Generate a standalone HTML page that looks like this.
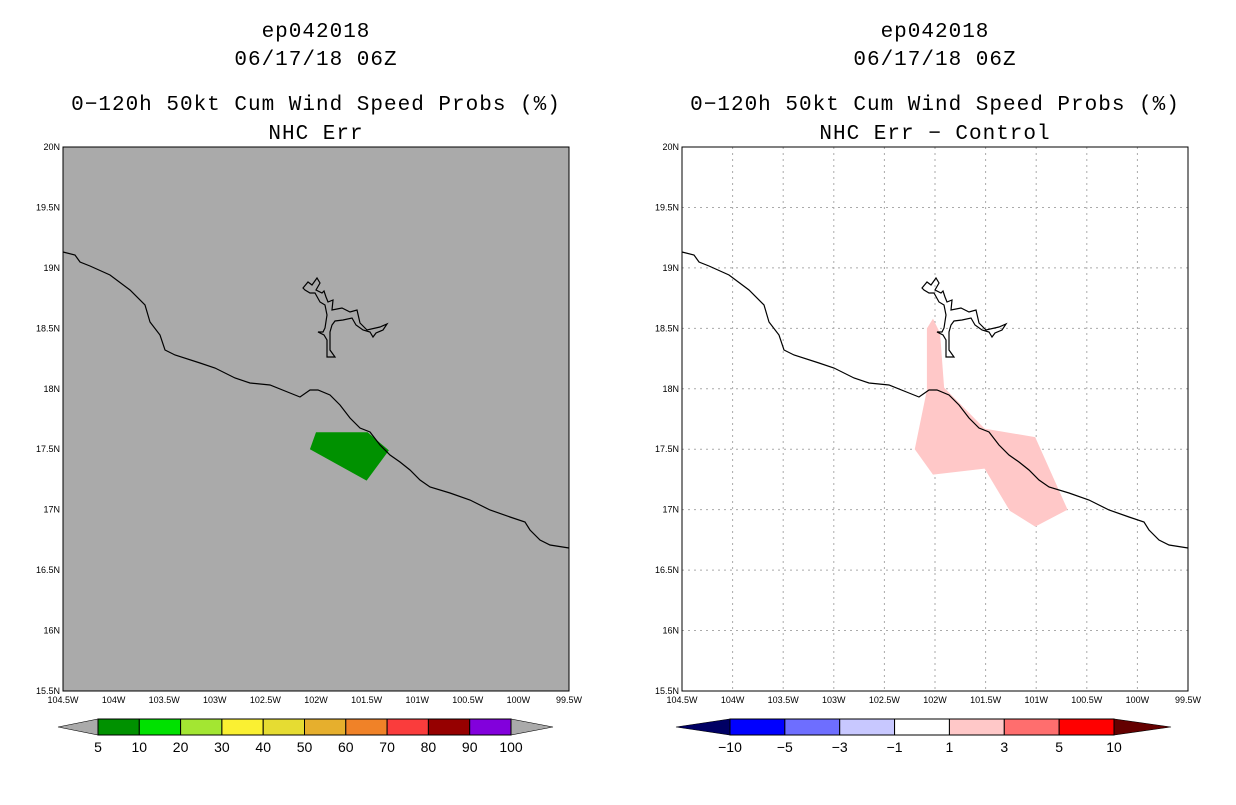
<!DOCTYPE html>
<html><head><meta charset="utf-8">
<style>
body{margin:0;background:#fff;width:1236px;height:800px;overflow:hidden;font-family:"Liberation Sans",sans-serif}
svg text{font-family:"Liberation Sans",sans-serif}
svg text.ttl{font-family:"Liberation Mono",monospace}
</style></head>
<body>
<svg id="svg" width="1236" height="800" viewBox="0 0 1236 800"></svg>
<script>
const lonTicks=[-104.5,-104,-103.5,-103,-102.5,-102,-101.5,-101,-100.5,-100,-99.5];
const lonLabels=["104.5W","104W","103.5W","103W","102.5W","102W","101.5W","101W","100.5W","100W","99.5W"];
const latTicks=[15.5,16,16.5,17,17.5,18,18.5,19,19.5,20];
const latLabels=["15.5N","16N","16.5N","17N","17.5N","18N","18.5N","19N","19.5N","20N"];
const probLon=[-102.0,-101.49,-101.28,-101.5,-102.06];
const probLat=[17.64,17.64,17.49,17.24,17.5];
const diffLon=[-102.02,-101.95,-101.91,-101.51,-101.01,-100.69,-101.01,-101.26,-101.51,-102.02,-102.2,-102.08,-102.08];
const diffLat=[18.58,18.46,18.01,17.67,17.60,17.0,16.86,16.99,17.34,17.29,17.5,17.99,18.5];
const leftBins=["5","10","20","30","40","50","60","70","80","90","100"];
const leftColors=["#009100","#00e100","#a3e632","#faf032","#e6dc32","#e6af2d","#f08228","#fa3c3c","#960000","#8200dc"];
const rightBins=["\u221210","\u22125","\u22123","\u22121","1","3","5","10"];
const rightColors=["#0000ff","#6e6eff","#c8c8ff","#ffffff","#ffc8c8","#ff6e6e","#ff0000"];
const coast=[[0,105],[12,108],[17,115],[27,119],[47,128],[67,143],[82,158],[87,175],[97,188],[102,203],[112,208],[137,216],[152,221],[172,231],[187,236],[207,238],[227,246],[237,250],[247,243],[255,243],[267,248],[277,258],[287,271],[297,281],[307,285],[317,298],[327,308],[337,315],[347,323],[357,333],[367,340],[387,346],[407,353],[427,363],[447,370],[462,375],[467,383],[477,393],[487,398],[506,401]];
const lake=[[240,141],[245,135],[249,138],[254,131],[257,136],[253,143],[259,146],[261,144],[263,150],[265,155],[270,153],[269,163],[279,161],[287,165],[294,163],[297,176],[304,183],[317,180],[324,177],[320,183],[313,186],[310,190],[307,185],[300,183],[293,178],[289,171],[280,173],[272,174],[269,178],[267,185],[267,203],[272,210],[264,210],[264,193],[261,188],[255,185],[260,185],[262,181],[264,168],[262,158],[257,155],[252,146],[247,146],[242,143]];
const NS="http://www.w3.org/2000/svg";
const svg=document.getElementById('svg');
function mk(tag,attrs,parent){const e=document.createElementNS(NS,tag);for(const k in attrs)e.setAttribute(k,attrs[k]);(parent||svg).appendChild(e);return e;}
function panel(x0,opts){
  const W=506,H=544,y0=147;
  const g=mk('g',{});
  
  
  const X=lon=>x0+(lon+104.5)/5*W;
  const Y=lat=>y0+(20-lat)/4.5*H;
  const cx=x0+W/2;
  const titles=[["ep042018",30],["06/17/18 06Z",58],["0\u2212120h 50kt Cum Wind Speed Probs (%)",103],[opts.sub,132]];
  titles.forEach((t,i)=>{const e=mk('text',{x:cx,y:t[1]+7,'text-anchor':'middle','font-size':21,fill:'#000','letter-spacing':'1',class:'ttl'},g);e.textContent=t[0];
    });
  const bg=mk('rect',{x:x0,y:y0,width:W,height:H,fill:opts.bg},g);
  
  if(opts.grid){
    lonTicks.slice(1,-1).forEach(l=>{const e=mk('line',{x1:X(l),x2:X(l),y1:y0,y2:y0+H,stroke:'#aaa','stroke-dasharray':'2,4'},g);});
    latTicks.slice(1,-1).forEach(l=>{const e=mk('line',{x1:x0,x2:x0+W,y1:Y(l),y2:Y(l),stroke:'#aaa','stroke-dasharray':'2,4'},g);});
  }
  const poly=mk('polygon',{points:opts.lons.map((l,i)=>X(l)+','+Y(opts.lats[i])).join(' '),fill:opts.fill},g);
  
  const c=mk('polyline',{points:coast.map(p=>(x0+p[0])+','+(y0+p[1])).join(' '),fill:'none',stroke:'#000','stroke-width':1.2},g);
  
  const lk=mk('polygon',{points:lake.map(p=>(x0+p[0])+','+(y0+p[1])).join(' '),fill:'none',stroke:'#000','stroke-width':1.2},g);
  
  const fr=mk('rect',{x:x0,y:y0,width:W,height:H,fill:'none',stroke:'#000','stroke-width':1},g);
  
  lonTicks.forEach((l,i)=>{const e=mk('text',{x:X(l),y:y0+H+12,'text-anchor':'middle','font-size':9},g);e.textContent=lonLabels[i];
    });
  latTicks.forEach((l,i)=>{const e=mk('text',{x:x0-3,y:Y(l)+3,'text-anchor':'end','font-size':9},g);e.textContent=latLabels[i];
    });
  const cb=opts.cb;const n=cb.colors.length;const sw=(cb.x1-cb.x0)/n;const yT=719,yB=735,ym=727;
  const cg=mk('g',{},g);
  mk('polygon',{points:`${cb.lx},${ym} ${cb.x0},${yT} ${cb.x0},${yB}`,fill:cb.lc,stroke:'#000','stroke-width':0.6},cg);
  mk('polygon',{points:`${cb.rx},${ym} ${cb.x1},${yT} ${cb.x1},${yB}`,fill:cb.rc,stroke:'#000','stroke-width':0.6},cg);
  cb.colors.forEach((col,i)=>{const r=mk('rect',{x:cb.x0+i*sw,y:yT,width:sw,height:yB-yT,fill:col,stroke:'#000','stroke-width':1},cg);
    });
  cb.labels.forEach((t,i)=>{const e=mk('text',{x:cb.x0+i*sw,y:752,'text-anchor':'middle','font-size':14},cg);e.textContent=t;
    });
}
panel(63,{name:'left-panel',sub:'NHC Err',bg:'#aaaaaa',grid:false,lons:probLon,lats:probLat,fill:'#009100',polyName:'probability-area',
  cb:{x0:98,x1:511,lx:58,rx:553,lc:'#aaaaaa',rc:'#aaaaaa',colors:leftColors,labels:leftBins}});
panel(682,{name:'right-panel',sub:'NHC Err \u2212 Control',bg:'#ffffff',grid:true,lons:diffLon,lats:diffLat,fill:'#ffc8c8',polyName:'difference-area',
  cb:{x0:730,x1:1114,lx:676,rx:1171,lc:'#000064',rc:'#640000',colors:rightColors,labels:rightBins}});
</script>
</body></html>
